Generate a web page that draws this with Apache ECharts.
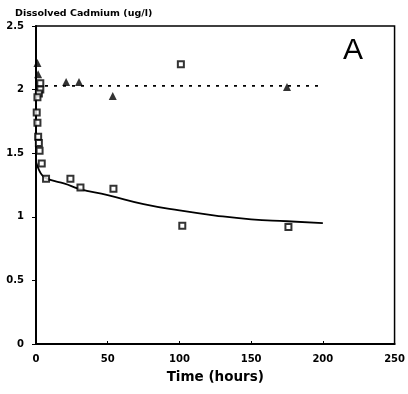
<!DOCTYPE html>
<html>
<head>
<meta charset="utf-8">
<script src="https://cdn.jsdelivr.net/npm/echarts@6/dist/echarts.min.js"></script>
<style>html,body{margin:0;padding:0;background:#fff}#c{width:408px;height:394px}</style>
</head>
<body>
<div id="c"></div>
<script>
// Dissolved cadmium (squares, lower series)
const squareTimes  = [0.5, 1, 1.5, 2, 2.5, 4, 7, 24, 31, 54, 102, 176];
const squareValues = [1.82, 1.74, 1.63, 1.58, 1.52, 1.42, 1.30, 1.30, 1.23, 1.22, 0.93, 0.92];
// Upper series (triangles)
const triTimes  = [1, 1.5, 21, 30, 53.5, 175];
const triValues = [2.21, 2.12, 2.06, 2.06, 1.95, 2.02];
// Upper series squares near the axis and at 100 h
const upSqTimes  = [3, 3, 2, 1, 101];
const upSqValues = [2.05, 2.00, 1.97, 1.94, 2.20];
// Fitted curve
const curveTimes  = [0, 2, 4, 6, 10, 20, 30, 50, 75, 100, 125, 150, 175, 200];
const curveValues = [1.43, 1.37, 1.33, 1.31, 1.29, 1.26, 1.22, 1.17, 1.10, 1.05, 1.01, 0.98, 0.965, 0.95];
// Dashed mean line
const meanTimes  = [0, 200];
const meanValues = [2.03, 2.03];
// Axis ticks
const xTicks = [0, 50, 100, 150, 200, 250];
const yTicks = [0, 0.5, 1, 1.5, 2, 2.5];

const zip = (a, b) => a.map((v, i) => [v, b[i]]);
const font = 'DejaVu Sans, Liberation Sans, Arial, sans-serif';
const chart = echarts.init(document.getElementById('c'));
chart.setOption({
  animation: false,
  backgroundColor: '#fff',
  grid: { left: 36, right: 13, top: 26, bottom: 50, show: true, borderColor: '#000', borderWidth: 1.5, backgroundColor: 'transparent' },
  title: { text: 'Dissolved Cadmium (ug/l)', left: 10, top: 4,
    textStyle: { fontFamily: font, fontWeight: 'bold', fontSize: 9.5, color: '#000' } },
  graphic: [{ type: 'text', left: 343, top: 36, style: { text: 'A', fontFamily: 'Liberation Sans, Arial, sans-serif', fontSize: 30, fill: '#000' } }],
  xAxis: {
    type: 'value', min: xTicks[0], max: xTicks[xTicks.length - 1], interval: 50,
    name: 'Time (hours)', nameLocation: 'middle', nameGap: 26,
    nameTextStyle: { fontFamily: font, fontWeight: 'bold', fontSize: 13.5, color: '#000' },
    axisLine: { lineStyle: { color: '#000', width: 2 } },
    axisTick: { inside: true, length: 3, lineStyle: { color: '#000' } },
    axisLabel: { fontFamily: font, fontWeight: 'bold', fontSize: 10, color: '#000', margin: 10 },
    splitLine: { show: false }
  },
  yAxis: {
    type: 'value', min: yTicks[0], max: yTicks[yTicks.length - 1], interval: 0.5,
    axisLine: { show: true, lineStyle: { color: '#000', width: 2 } },
    axisTick: { show: true, length: 4, lineStyle: { color: '#000' } },
    axisLabel: { fontFamily: font, fontWeight: 'bold', fontSize: 10, color: '#000', margin: 12 },
    splitLine: { show: false }
  },
  series: [
    { type: 'line', data: zip(curveTimes, curveValues), smooth: true, symbol: 'none',
      lineStyle: { color: '#000', width: 1.8 }, z: 2 },
    { type: 'line', data: zip(meanTimes, meanValues), symbol: 'none',
      lineStyle: { color: '#000', width: 1.8, type: [3, 6] }, z: 2 },
    { type: 'scatter', data: zip(squareTimes, squareValues), symbol: 'rect', symbolSize: 6,
      itemStyle: { color: '#fff', borderColor: '#000', borderWidth: 2 }, z: 3 },
    { type: 'scatter', data: zip(upSqTimes, upSqValues), symbol: 'rect', symbolSize: 6,
      itemStyle: { color: '#fff', borderColor: '#000', borderWidth: 2 }, z: 3 },
    { type: 'scatter', data: zip(triTimes, triValues), symbol: 'triangle', symbolSize: 8,
      itemStyle: { color: '#000' }, z: 3 }
  ]
});
</script>
</body>
</html>
